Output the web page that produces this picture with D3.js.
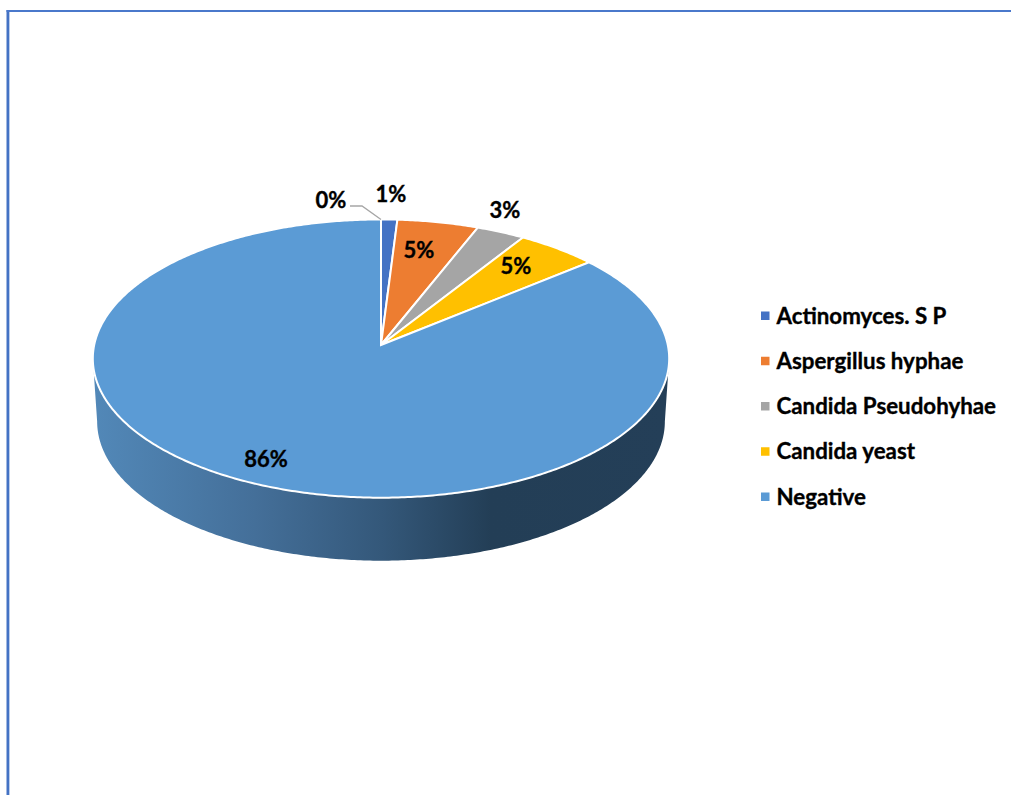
<!DOCTYPE html>
<html>
<head>
<meta charset="utf-8">
<script src="https://cdn.jsdelivr.net/npm/d3@7/dist/d3.min.js"></script>
<style>
  html, body { margin: 0; padding: 0; background: #fff; }
  svg { display: block; }
  text { font-family: Lato, "Open Sans", sans-serif; font-weight: 700; fill: #000; stroke: #000; stroke-width: 0.35px; }
</style>
</head>
<body>
<script>
// Share of samples per finding, in percent
const sliceNames = ["Unnamed", "Actinomyces. S P", "Aspergillus hyphae", "Candida Pseudohyhae", "Candida yeast", "Negative"];
const sliceValues = [0, 1, 5, 3, 5, 86];
const sliceColors = ["#7f7f7f", "#4472c4", "#ed7d31", "#a5a5a5", "#ffc000", "#5b9bd5"];
const legendNames = sliceNames.slice(1);
const legendColors = sliceColors.slice(1);
const labelSpots = [[331, 199], [391, 193], [419, 249], [505, 209], [516, 265], [266, 458]];

const width = 1011, height = 795;
const svg = d3.select("body").append("svg").attr("width", width).attr("height", height);

// Tilted disc: a homography keeps the rim elliptical while pushing the hub upward
const hubX = 381, hubY = 345, spanX = 286.8, spanY = 137.8, tilt = 0.0975;
const depth = 63, baseShrink = 0.985;
const sx = d3.scaleLinear().domain([-1, 1]).range([hubX - spanX, hubX + spanX]);
const sy = d3.scaleLinear().domain([-1, 1]).range([hubY + spanY, hubY - spanY]);
const project = (a, r = 1) => {
  const u = r * Math.sin(a), v = r * Math.cos(a), w = 1 + tilt * v;
  return [sx(u / w), sy(v / w)];
};
const line = d3.line();
const sampleAngles = (a0, a1) => {
  const n = Math.max(2, Math.ceil(Math.abs(a1 - a0) / 0.01));
  return d3.range(n + 1).map(i => a0 + (a1 - a0) * i / n);
};

// Frame on the top and left of the page
svg.append("rect").attr("x", 9).attr("y", 12).attr("width", 1).attr("height", height - 12).attr("fill", "#c9d6ef");
svg.append("rect").attr("x", 6.5).attr("y", 10).attr("width", 2.6).attr("height", height - 10).attr("fill", "#4472c4");
svg.append("rect").attr("x", 6.5).attr("y", 10).attr("width", width - 6.5).attr("height", 2).attr("fill", "#4a78cb");

// Shaded side wall
const defs = svg.append("defs");
const wallGradient = defs.append("linearGradient").attr("id", "wall")
  .attr("gradientUnits", "userSpaceOnUse").attr("x1", 94).attr("x2", 669).attr("y1", 0).attr("y2", 0);
[[0, "#5288b8"], [0.28, "#446f99"], [0.5, "#34587a"], [0.69, "#233e56"], [1, "#243f58"]]
  .forEach(([o, c]) => wallGradient.append("stop").attr("offset", o).attr("stop-color", c));

const sideRight = Math.acos(-tilt), sideLeft = 2 * Math.PI - sideRight;
const topEdge = sampleAngles(sideRight, sideLeft).map(a => project(a));
const baseEdge = sampleAngles(sideLeft, sideRight).map(a => {
  const [x, y] = project(a);
  return [hubX + (x - hubX) * baseShrink, y + depth];
});
svg.append("path").attr("d", line(topEdge.concat(baseEdge)) + "Z").attr("fill", "url(#wall)");

// Top face
const arcs = d3.pie().sort(null).value(d => d)(sliceValues);
svg.append("g").selectAll("path").data(arcs).join("path")
  .attr("d", d => line([[sx(0), sy(0)], ...sampleAngles(d.startAngle, d.endAngle).map(a => project(a))]) + "Z")
  .attr("fill", (d, i) => sliceColors[i])
  .attr("stroke", "#fff").attr("stroke-width", 2).attr("stroke-linejoin", "miter");

// Leader for the empty slice
const [tipX, tipY] = project(arcs[0].startAngle);
svg.append("path").attr("d", line([[350, 206], [362, 206], [tipX, tipY]]))
  .attr("fill", "none").attr("stroke", "#a6a6a6").attr("stroke-width", 1.3);

// Percent labels
svg.append("g").selectAll("text").data(sliceValues).join("text")
  .attr("x", (d, i) => labelSpots[i][0]).attr("y", (d, i) => labelSpots[i][1])
  .attr("text-anchor", "middle").attr("dominant-baseline", "central")
  .attr("font-size", 22)
  .text(d => d + "%");

// Legend
const legendY = d3.scalePoint().domain(legendNames).range([315, 496]);
const legend = svg.append("g").selectAll("g").data(legendNames).join("g");
legend.append("rect").attr("x", 761).attr("y", d => legendY(d) - 3.5)
  .attr("width", 8.5).attr("height", 8.5).attr("fill", (d, i) => legendColors[i]);
legend.append("text").attr("x", 776.5).attr("y", d => legendY(d))
  .attr("dominant-baseline", "central").attr("font-size", 22.3).text(d => d);
</script>
</body>
</html>
